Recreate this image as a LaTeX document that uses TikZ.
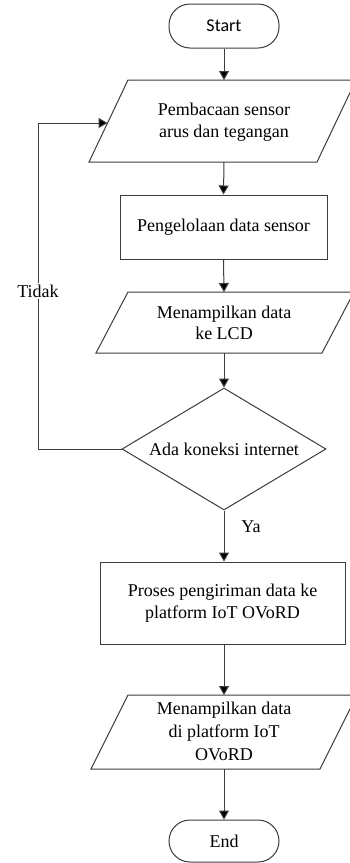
\documentclass[tikz,border=0pt]{standalone}
\usepackage{fontspec}
\setmainfont{Liberation Serif}
\newfontfamily\calib{Carlito}
\usetikzlibrary{shapes.geometric,arrows.meta}
\definecolor{linecol}{RGB}{60,60,60}
\begin{document}
\begin{tikzpicture}[x=1pt,y=-1pt,
  txt/.style={font=\fontsize{18}{21.5}\selectfont, align=center, inner sep=0pt},
  shapeline/.style={draw=linecol, line width=1pt},
  term/.style={txt, shapeline, rectangle, rounded corners=21pt, minimum width=110pt, minimum height=44pt},
  procbox/.style={txt, shapeline, rectangle},
  decbox/.style={txt, shapeline, diamond, aspect=1.67, minimum width=204pt, minimum height=122pt},
  arr/.style={draw=linecol, line width=1pt, -{Triangle[length=9pt,width=10pt,fill=black]}}
]
\useasboundingbox (0,0) rectangle (349,863);

% Start
\node[term] (start) at (224,26) {\calib Start};

% Parallelogram 1
\coordinate (p1a) at (128,80);
\coordinate (p1b) at (356,80);
\coordinate (p1c) at (317,162);
\coordinate (p1d) at (89,162);
\draw[shapeline] (p1a) -- (p1b) -- (p1c) -- (p1d) -- cycle;
\node[txt] (p1) at (224,122) {Pembacaan sensor\\arus dan tegangan};
\coordinate (p1t) at (224,80);
\coordinate (p1bt) at (224,162);
\coordinate (p1l) at (107.5,123);

% Process 2
\node[procbox, minimum width=207pt, minimum height=64pt] (r2) at (223.5,227) {Pengelolaan data sensor};

% Parallelogram 3
\coordinate (p3a) at (128,292);
\coordinate (p3b) at (354,292);
\coordinate (p3c) at (322,353);
\coordinate (p3d) at (96,353);
\draw[shapeline] (p3a) -- (p3b) -- (p3c) -- (p3d) -- cycle;
\node[txt] (p3) at (224,323) {Menampilkan data\\ke LCD};
\coordinate (p3t) at (224,292);
\coordinate (p3bt) at (224,353);

% Decision
\node[decbox] (dec) at (224,449) {Ada koneksi internet};

% Process 5
\node[procbox, minimum width=245pt, minimum height=82pt] (r5) at (222.5,603) {Proses pengiriman data ke\\platform IoT OVoRD};

% Parallelogram 6
\coordinate (p6a) at (128,695);
\coordinate (p6b) at (357,695);
\coordinate (p6c) at (320,769);
\coordinate (p6d) at (91,769);
\draw[shapeline] (p6a) -- (p6b) -- (p6c) -- (p6d) -- cycle;
\node[txt, font=\fontsize{18}{23}\selectfont] (p6) at (224,731) {Menampilkan data\\di platform IoT\\OVoRD};
\coordinate (p6t) at (224,695);
\coordinate (p6bt) at (224,769);

% End
\node[term, minimum height=42pt] (end) at (224,841) {End};

% Connectors
\draw[arr] (start.south) -- (p1t);
\draw[arr] (p1bt) -- (r2.north);
\draw[arr] (r2.south) -- (p3t);
\draw[arr] (p3bt) -- (dec.north);
\draw[arr] (dec.south) -- (r5.north -| dec.south);
\draw[arr] (r5.south -| dec.south) -- (p6t);
\draw[arr] (p6bt) -- (end.north);

% Loop back
\coordinate (tl1) at (38,449);
\coordinate (tl2) at (38,123);
\draw[arr] (dec.west) -- (tl1) -- (tl2) -- (p1l);
\node[txt, fill=white, inner sep=2pt] (tidak) at (38,291) {Tidak};

% Ya label
\node[txt] (ya) at (251,527) {Ya};
\end{tikzpicture}
\end{document}
